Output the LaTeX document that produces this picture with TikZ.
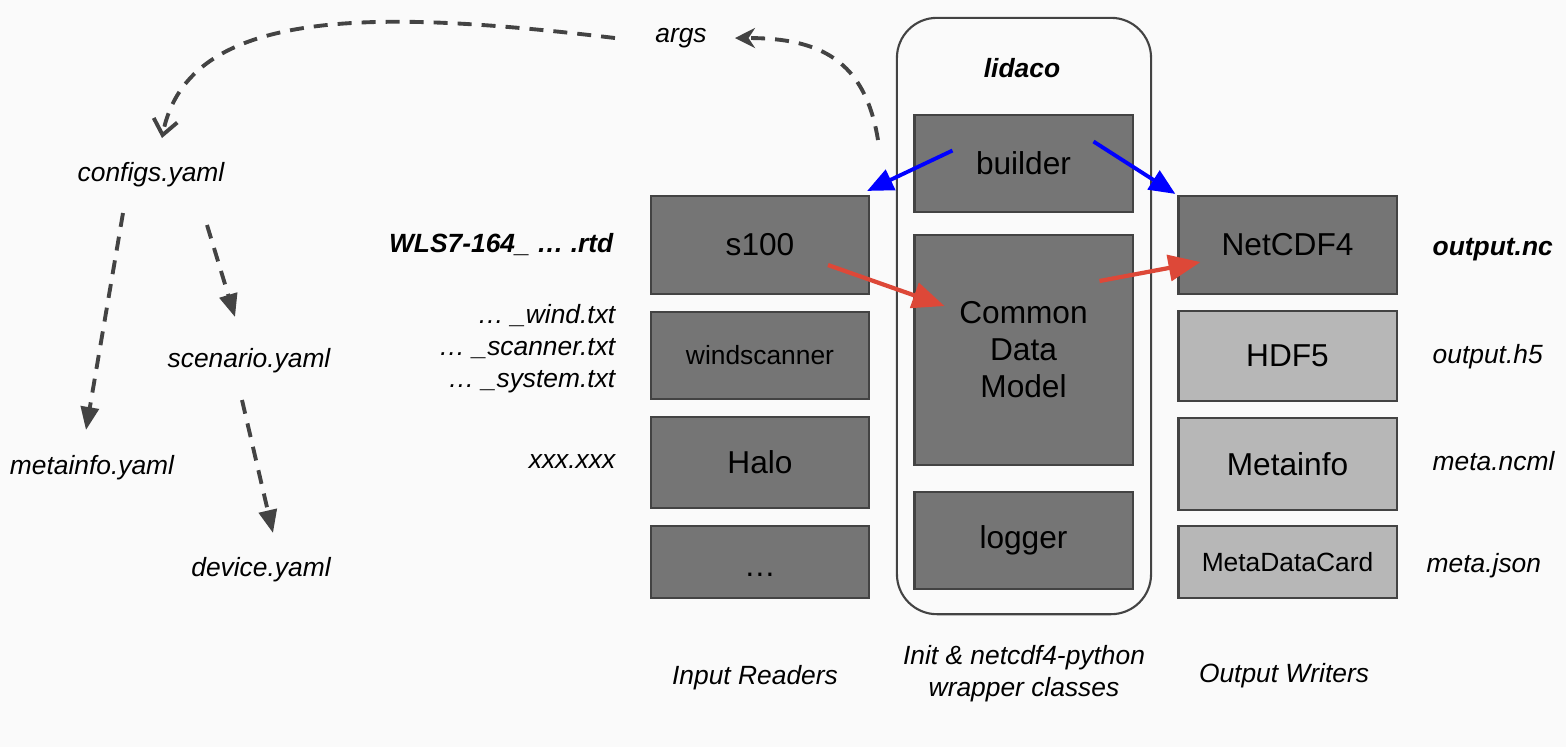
\documentclass[tikz,border=0pt]{standalone}
\usepackage{fontspec}
\setmainfont{Liberation Sans}
\usetikzlibrary{arrows.meta}

\definecolor{bgcol}{RGB}{250,250,250}
\definecolor{darkbox}{RGB}{117,117,117}
\definecolor{lightbox}{RGB}{183,183,183}
\definecolor{edgecol}{RGB}{67,67,67}
\definecolor{redarr}{RGB}{221,72,56}

\begin{document}
\begin{tikzpicture}[
    x=0.01cm, y=-0.01cm,
    every node/.style={anchor=center, inner sep=0pt},
    box/.style={draw=edgecol, line width=0.6pt, minimum width=2.18cm, align=center, font=\fontsize{9}{10.5}\selectfont},
    dark/.style={box, fill=darkbox},
    light/.style={box, fill=lightbox},
    smallbox/.style={font=\fontsize{7.5}{9}\selectfont},
    file/.style={font=\fontsize{7.5}{9.1}\selectfont\itshape},
    boldfile/.style={font=\fontsize{7.5}{9.1}\selectfont\bfseries\itshape},
    dasharr/.style={edgecol, line width=1.1pt, dash pattern=on 0.14cm off 0.1cm, -{Triangle[length=0.23cm, width=0.18cm]}},
    calls/.style={blue, line width=1.1pt, -{Triangle[length=0.26cm, width=0.22cm]}},
    flow/.style={redarr, line width=1.2pt, -{Triangle[length=0.32cm, width=0.26cm]}}
    ]

    % background fixes the page size
    \fill[bgcol] (0,0) rectangle (1566,747);

    % lidaco container
    \node[draw=edgecol, line width=0.6pt, rounded corners=0.4cm, minimum width=2.54cm, minimum height=5.96cm] (lidacobox) at (1024,316) {};
    \node[boldfile] (lidaco) at (1022,68) {lidaco};
    \node[dark, minimum height=0.97cm] (builder) at (1023.5,163.5) {builder};
    \node[dark, minimum height=2.30cm] (cdm) at (1023.5,350) {Common\\Data\\Model};
    \node[dark, minimum height=0.97cm] (logger) at (1023.5,540.5) {logger};

    % input readers
    \node[dark, minimum height=0.98cm] (s100) at (760,245) {s100};
    \node[dark, smallbox, minimum height=0.87cm] (wind) at (760,355.5) {windscanner};
    \node[dark, minimum height=0.91cm] (halo) at (760,462.5) {Halo};
    \node[dark, minimum height=0.72cm, text height=1em, text depth=0.2em] (more) at (760,562) {…};

    % output writers
    \node[dark, minimum height=0.98cm] (netcdf) at (1287.5,245) {NetCDF4};
    \node[light, minimum height=0.90cm] (hdf) at (1287.5,356) {HDF5};
    \node[light, minimum height=0.92cm] (metawr) at (1287.5,464) {Metainfo};
    \node[light, smallbox, minimum height=0.72cm] (mdc) at (1287.5,562) {MetaDataCard};

    % input files
    \node[boldfile, anchor=east] (rtd) at (614,245) {WLS7-164\_ … .rtd};
    \node[file, anchor=east, align=right] (txt) at (616,349) {… \_wind.txt\\… \_scanner.txt\\… \_system.txt};
    \node[file, anchor=east] (xxx) at (616,462) {xxx.xxx};

    % output files
    \node[boldfile, anchor=west] (outnc) at (1432,250) {output.nc};
    \node[file, anchor=west] (outh5) at (1432,357) {output.h5};
    \node[file, anchor=west] (ncml) at (1432,461) {meta.ncml};
    \node[file, anchor=west] (json) at (1426,566) {meta.json};

    % configuration files
    \node[file] (args) at (681,38) {args};
    \node[file] (configs) at (151,175) {configs.yaml};
    \node[file] (scenario) at (249,361) {scenario.yaml};
    \node[file] (metainfo) at (92,468) {metainfo.yaml};
    \node[file] (device) at (261,570) {device.yaml};

    % column captions
    \node[file] (incap) at (755,678) {Input Readers};
    \node[file, align=center] (midcap) at (1024,674) {Init \& netcdf4-python\\wrapper classes};
    \node[file] (outcap) at (1284,676) {Output Writers};

    % configuration flow
    \coordinate (argsout) at (878,140);
    \draw[dasharr, -{Stealth[length=0.2cm, width=0.2cm]}] (argsout) .. controls (865,60) and (820,38) .. ([shift={(54,0)}]args.center);
    \draw[dasharr, -{Straight Barb[length=0.15cm, width=0.24cm]}] ([shift={(-66,0)}]args.center) .. controls (380,10) and (188,5) .. ([shift={(11,-37)}]configs.center);
    \draw[dasharr] ([shift={(-28,38)}]configs.center) -- ([shift={(-6,-38)}]metainfo.center);
    \draw[dasharr] ([shift={(56,50)}]configs.center) -- ([shift={(-14,-44)}]scenario.center);
    \draw[dasharr] ([shift={(-7,39)}]scenario.center) -- ([shift={(12,-37)}]device.center);

    % builder creates reader and writer
    \draw[calls] ([shift={(-71,-13)}]builder.center) -- ([shift={(-3,-4)}]s100.north east);
    \draw[calls] ([shift={(70,-22)}]builder.center) -- ([shift={(-2,-1)}]netcdf.north west);

    % data flow
    \draw[flow] ([shift={(68,20)}]s100.center) -- ([shift={(-79,-44)}]cdm.center);
    \draw[flow] ([shift={(76,-69)}]cdm.center) -- ([shift={(-87,17)}]netcdf.center);

\end{tikzpicture}
\end{document}
